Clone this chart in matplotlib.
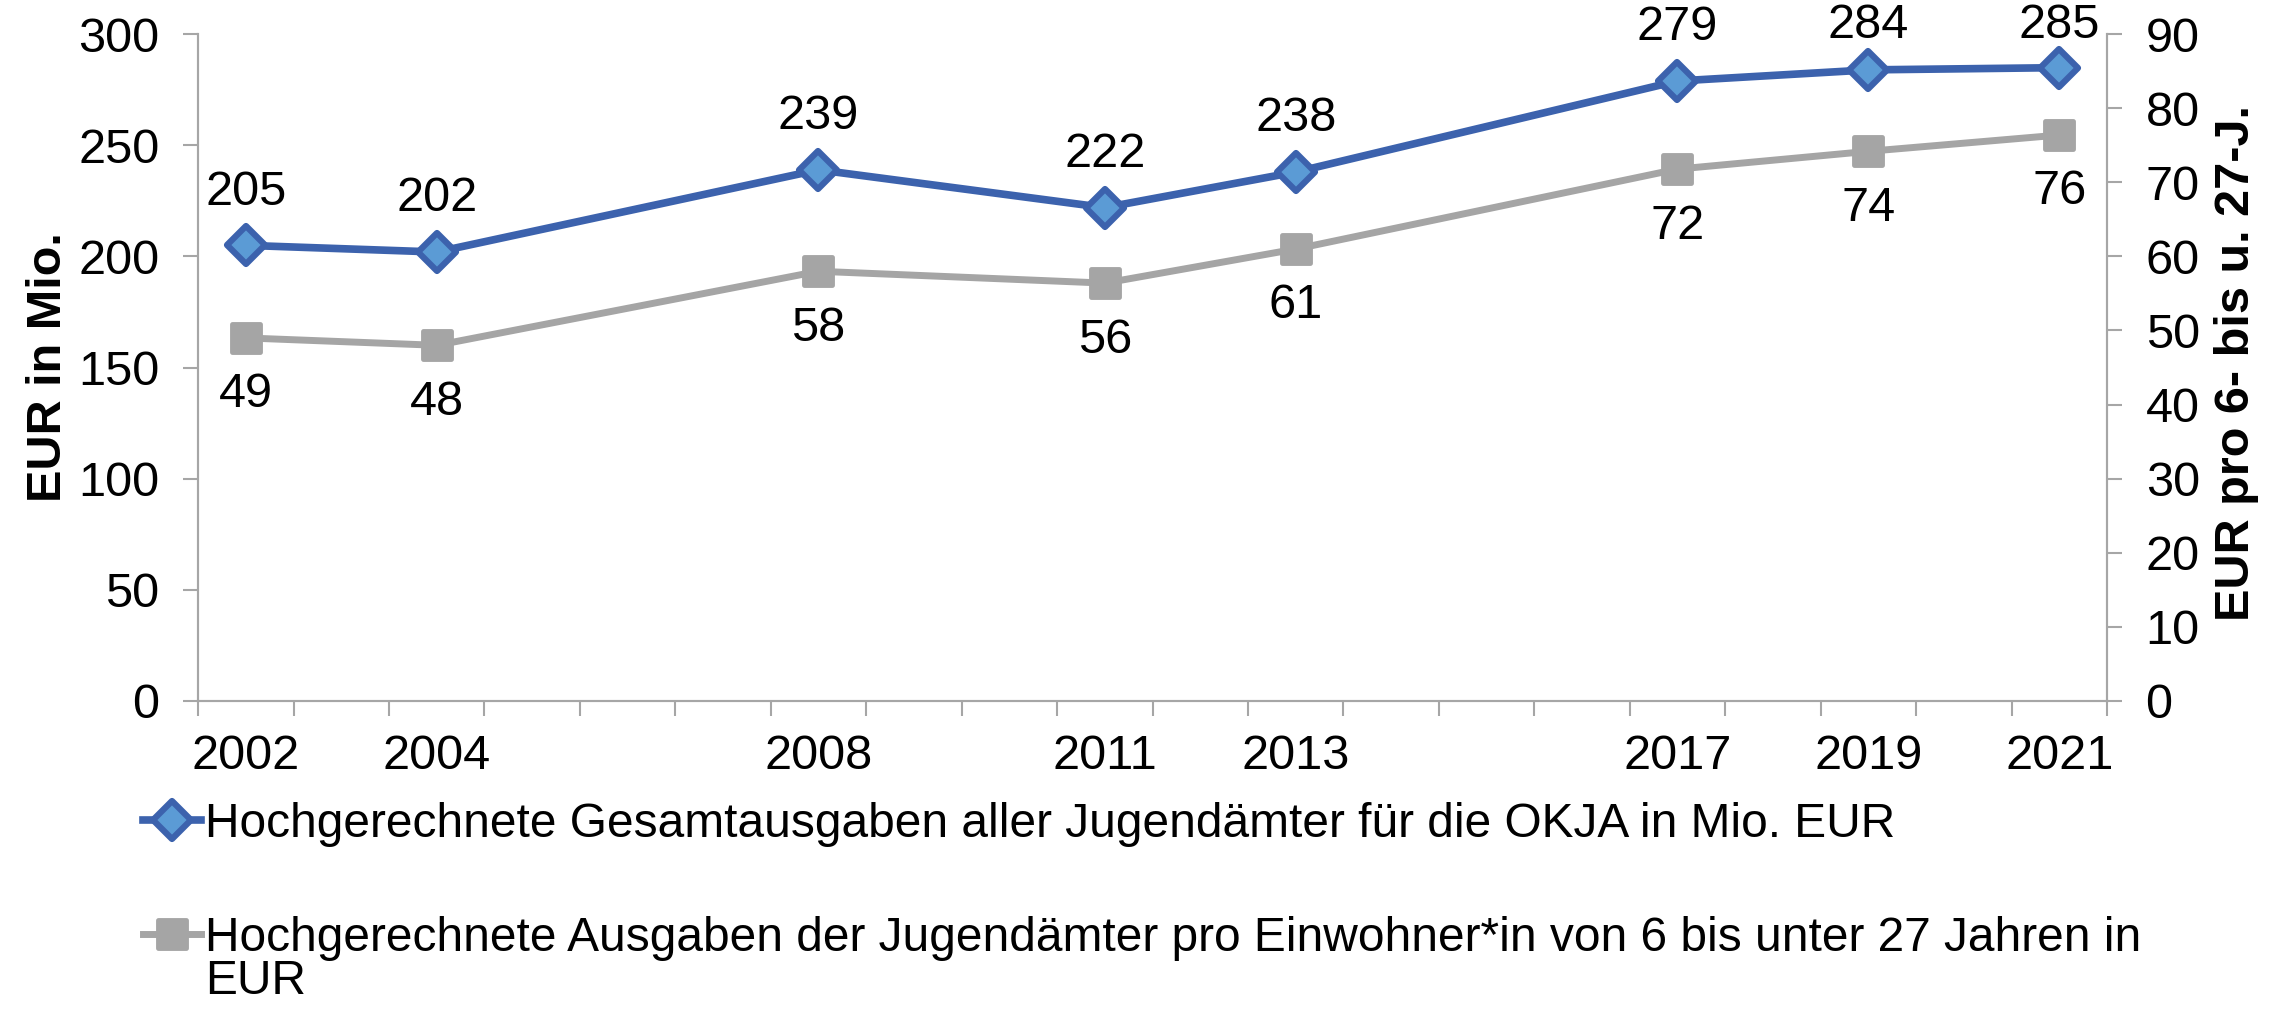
import matplotlib
matplotlib.use("Agg")
import matplotlib.pyplot as plt
from matplotlib.markers import MarkerStyle

plt.rcParams['font.family'] = ['Liberation Sans', 'DejaVu Sans']

years = [2002, 2004, 2008, 2011, 2013, 2017, 2019, 2021]
gesamt = [205, 202, 239, 222, 238, 279, 284, 285]          # Mio. EUR
pro_kopf = [49, 48, 58, 56.4, 61, 71.8, 74.2, 76.4]         # EUR pro 6- bis u. 27-J.

label_gesamt = "Hochgerechnete Gesamtausgaben aller Jugendämter für die OKJA in Mio. EUR"
label_pro_kopf = "Hochgerechnete Ausgaben der Jugendämter pro Einwohner*in von 6 bis unter 27 Jahren in"

blue = '#3C62AD'
light_blue = '#5B9BD5'
grey = '#A5A5A5'
axis_grey = '#A6A6A6'
fs = 35
fs_leg = 34.5

fig = plt.figure(figsize=(22.85, 10.13), dpi=100)
ax = fig.add_axes([0.0867, 0.3083, 0.9221 - 0.0867, 0.9661 - 0.3083])
ax2 = ax.twinx()

l1, = ax.plot(years, gesamt, color=blue, lw=5.5,
              marker=MarkerStyle('D', joinstyle='round'), ms=19,
              mfc=light_blue, mec=blue, mew=4.5, clip_on=False, zorder=3)
l2, = ax2.plot(years, pro_kopf, color=grey, lw=5,
               marker=MarkerStyle('s', joinstyle='round'), ms=20.5,
               mfc=grey, mec=grey, mew=3.5, clip_on=False, zorder=3)

# labels above the blue line, kept inside the chart at the top
for x, v in zip(years, gesamt):
    ax.annotate(f"{v:.0f}", (x, v), xytext=(x, min(v + 24, 304)), textcoords='data',
                ha='center', va='center', fontsize=fs, annotation_clip=False)
for x, v in zip(years, pro_kopf):
    ax2.annotate(f"{v:.0f}", (x, v), xytext=(0, -41), textcoords='offset points',
                 ha='center', va='center', fontsize=fs, annotation_clip=False)

ax.set_xlim(2001.5, 2021.5)
ax.set_ylim(0, 300)
ax2.set_ylim(0, 90)
ax.set_yticks(range(0, 301, 50))
ax2.set_yticks(range(0, 91, 10))
ax.set_xticks(years)
ax.set_xticks([y + 0.5 for y in range(2001, 2022)], minor=True)

ax.tick_params(axis='x', which='major', length=0, pad=24, labelsize=fs)
ax.tick_params(axis='x', which='minor', length=10.8, width=1.5, color=axis_grey)
ax.tick_params(axis='y', length=10.8, width=1.5, color=axis_grey, pad=17, labelsize=fs)
ax2.tick_params(axis='y', length=10.8, width=1.5, color=axis_grey, pad=17, labelsize=fs)

for a in (ax, ax2):
    a.spines['top'].set_visible(False)
    for s in ('left', 'right', 'bottom'):
        a.spines[s].set_color(axis_grey)
        a.spines[s].set_linewidth(1.5)

ax.set_ylabel("EUR in Mio.", fontsize=35, fontweight='bold', va='center')
ax.yaxis.set_label_coords(-0.0786, 0.5)
ax2.set_ylabel("EUR pro 6- bis u. 27-J.", fontsize=35, fontweight='bold', va='center')
ax2.yaxis.set_label_coords(1.068, 0.507)

leg = fig.legend([l1, l2], [label_gesamt, label_pro_kopf], loc='center left',
                 bbox_to_anchor=(0.0626, 0.13), frameon=False, fontsize=fs_leg,
                 handlelength=1.2, handletextpad=0.1, labelspacing=1.45,
                 borderpad=0, borderaxespad=0, numpoints=1)

# second legend entry wraps onto a second line, under the text (not the handle)
fig.canvas.draw()
bb = leg.get_texts()[1].get_window_extent().transformed(fig.transFigure.inverted())
fig.text(bb.x0, bb.y0 + 0.002, "EUR", fontsize=fs_leg, ha='left', va='top')

fig.savefig('out.png', dpi=100)
